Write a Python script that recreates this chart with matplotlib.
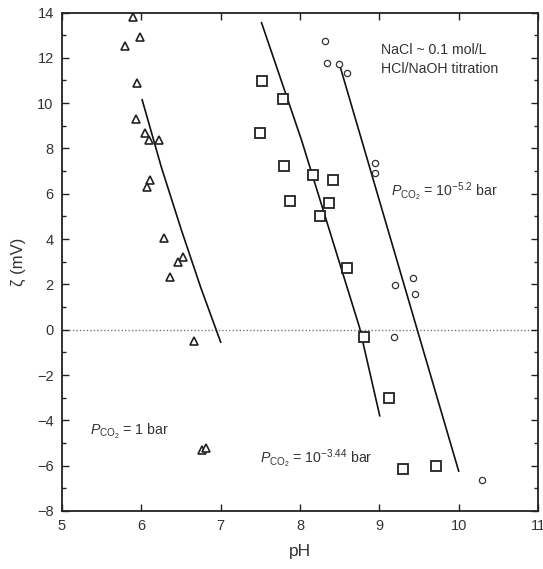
import matplotlib
matplotlib.use("Agg")
import matplotlib.pyplot as plt
from matplotlib.ticker import MultipleLocator

plt.rcParams['font.family'] = ['Liberation Sans', 'DejaVu Sans']
plt.rcParams['mathtext.fontset'] = 'custom'
plt.rcParams['mathtext.rm'] = 'Liberation Sans'
plt.rcParams['mathtext.it'] = 'Liberation Sans:italic'
plt.rcParams['mathtext.bf'] = 'Liberation Sans:bold'

# --- data ---
tri_ph = [5.90, 5.98, 5.79, 5.94, 5.93, 6.05, 6.10, 6.22, 6.11, 6.07, 6.29, 6.52, 6.46, 6.36, 6.67, 6.76, 6.82]
tri_zeta = [13.8, 12.93, 12.53, 10.91, 9.29, 8.68, 8.36, 8.36, 6.59, 6.28, 4.05, 3.23, 3.00, 2.31, -0.49, -5.3, -5.2]

sq_ph = [7.52, 7.78, 7.49, 7.80, 8.17, 8.42, 7.88, 8.37, 8.25, 8.59, 8.81, 9.12, 9.30, 9.72]
sq_zeta = [10.96, 10.19, 8.70, 7.21, 6.82, 6.59, 5.70, 5.58, 5.00, 2.71, -0.30, -3.00, -6.14, -6.02]

ci_ph = [8.32, 8.34, 8.49, 8.59, 8.94, 8.94, 9.42, 9.20, 9.45, 9.19, 10.29]
ci_zeta = [12.75, 11.79, 11.74, 11.33, 7.35, 6.90, 2.28, 1.96, 1.56, -0.33, -6.64]

fit1_ph = [6.01, 6.25, 6.50, 6.75, 7.00]
fit1_zeta = [10.15, 7.20, 4.45, 1.85, -0.55]
fit2_ph = [7.515, 8.02, 8.75, 9.005]
fit2_zeta = [13.55, 8.36, 0.10, -3.80]
fit3_ph = [8.49, 10.0]
fit3_zeta = [11.8, -6.24]

fig = plt.figure(figsize=(5.43, 5.69), dpi=100)
ax = fig.add_axes([0.1142, 0.102, 0.8766, 0.876])

txt_color = '#333333'

ax.axhline(0, color='#777777', linestyle=(0, (1, 1.5)), linewidth=1.0, zorder=1)

ax.plot(fit1_ph, fit1_zeta, color='#111111', linewidth=1.2, zorder=2)
ax.plot(fit2_ph, fit2_zeta, color='#111111', linewidth=1.2, zorder=2)
ax.plot(fit3_ph, fit3_zeta, color='#111111', linewidth=1.2, zorder=2)

ax.plot(tri_ph, tri_zeta, linestyle='none', marker='^', markersize=6.2,
        markerfacecolor='white', markeredgecolor='#222222', markeredgewidth=1.2, zorder=3)
ax.plot(sq_ph, sq_zeta, linestyle='none', marker='s', markersize=7,
        markerfacecolor='white', markeredgecolor='#222222', markeredgewidth=1.3, zorder=3)
ax.plot(ci_ph, ci_zeta, linestyle='none', marker='o', markersize=4.5,
        markerfacecolor='white', markeredgecolor='#333333', markeredgewidth=0.9, zorder=3)

ax.set_xlim(5, 11)
ax.set_ylim(-8, 14)
ax.xaxis.set_major_locator(MultipleLocator(1))
ax.yaxis.set_major_locator(MultipleLocator(2))
ax.yaxis.set_minor_locator(MultipleLocator(1))

ax.tick_params(axis='both', which='both', direction='in', top=True, right=True,
               labelsize=10.5, colors='#222222', labelcolor=txt_color)
ax.tick_params(axis='both', which='major', length=5, width=1.0, pad=6)
ax.tick_params(axis='both', which='minor', length=3, width=1.0)
ax.set_yticks(range(-8, 15, 2))
ax.set_yticklabels([str(v).replace('-', '\u2212') for v in range(-8, 15, 2)])

for sp in ax.spines.values():
    sp.set_linewidth(1.3)
    sp.set_color('#222222')

ax.set_xlabel('pH', fontsize=12.5, color=txt_color, labelpad=8)
ax.set_ylabel('\u03b6 (mV)', fontsize=12, color=txt_color, labelpad=8)

fs = 10.2
ax.text(9.02, 12.35, 'NaCl ~ 0.1 mol/L', fontsize=fs, color=txt_color, va='center', ha='left')
ax.text(9.02, 11.5, 'HCl/NaOH titration', fontsize=fs, color=txt_color, va='center', ha='left')
ax.text(9.15, 6.1, r'$P_{\mathrm{CO_2}}$ = 10$^{\mathrm{-5.2}}$ bar', fontsize=fs, color=txt_color, va='center', ha='left')
ax.text(5.35, -4.5, r'$P_{\mathrm{CO_2}}$ = 1 bar', fontsize=fs, color=txt_color, va='center', ha='left')
ax.text(7.5, -5.7, r'$P_{\mathrm{CO_2}}$ = 10$^{\mathrm{-3.44}}$ bar', fontsize=fs, color=txt_color, va='center', ha='left')

fig.savefig('out.png', dpi=100)
